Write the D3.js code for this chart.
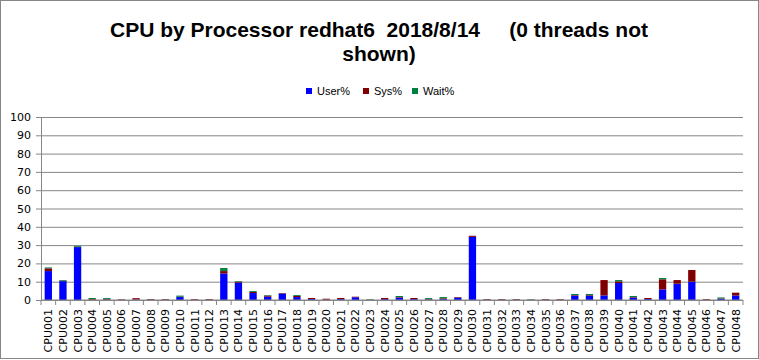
<!DOCTYPE html>
<html lang="en">
<head>
<meta charset="UTF-8">
<title>CPU by Processor</title>
<style>
  body { margin: 0; background: #fff; }
  text { font-family: "DejaVu Sans", Verdana, sans-serif; }
</style>
</head>
<body>
<script src="https://d3js.org/d3.v7.min.js"></script>
<div id="chart"></div>
<script>
// categories
var cpus = d3.range(1, 49).map(function(i) { return "CPU" + String(i).padStart(3, "0"); });

// series values
var userPct = [15.8, 10.3, 28.9, 0.1, 0.2, 0.1, 0.3, 0.1, 0.1, 1.6, 0.1, 0.1,
               14.5, 9.5, 3.8, 1.8, 3.5, 1.6, 0.5, 0.1, 0.5, 1.5, 0.1, 0.5,
               1.3, 0.5, 0.3, 0.5, 1.3, 34.5, 0.1, 0.1, 0.1, 0.1, 0.1, 0.1,
               2.4, 2.4, 2.5, 9.3, 1.3, 0.5, 5.8, 8.9, 10.0, 0.1, 0.7, 2.5];
var sysPct  = [1.5, 0.2, 0.2, 0.4, 0.4, 0.3, 0.7, 0.4, 0.4, 0.2, 0.4, 0.4,
               1.3, 0.5, 0.6, 0.6, 0.3, 0.6, 0.6, 0.6, 0.6, 0.3, 0.1, 0.6,
               0.3, 0.6, 0.3, 0.4, 0.3, 0.6, 0.4, 0.4, 0.4, 0.1, 0.4, 0.4,
               0.3, 0.3, 8.4, 0.9, 0.3, 0.6, 5.5, 2.0, 6.4, 0.4, 0.2, 1.5];
var waitPct = [0.5, 0.4, 0.5, 0.6, 0.5, 0, 0, 0, 0, 0.6, 0, 0,
               1.7, 0.3, 0.5, 0.3, 0, 0.5, 0, 0, 0, 0, 0.3, 0,
               0.6, 0, 0.5, 0.7, 0, 0, 0, 0, 0, 0.3, 0, 0,
               0.6, 0.6, 0, 0.7, 0.6, 0, 0.7, 0, 0, 0, 0.5, 0];

var seriesNames = ["User%", "Sys%", "Wait%"];
var seriesColors = ["#0000ff", "#800000", "#008040"];
var yTicks = d3.range(0, 101, 10);

var W = 759, H = 360;
var margin = { top: 117, right: 16, bottom: 60, left: 41 };
var width = W - margin.left - margin.right,
    height = H - margin.top - margin.bottom;

var svg = d3.select("#chart").append("svg")
    .attr("width", W)
    .attr("height", H);

// outer chart border
svg.append("rect")
    .attr("x", 0.5).attr("y", 0.5)
    .attr("width", W - 1).attr("height", H - 2)
    .attr("fill", "#fff")
    .attr("stroke", "#868686");

// title
var title = svg.append("text")
    .attr("text-anchor", "middle")
    .style("font-family", "'Liberation Sans Narrow', 'Liberation Sans', sans-serif")
    .style("font-weight", "bold")
    .style("font-size", "21px")
    .style("white-space", "pre")
    .attr("fill", "#000");
title.append("tspan").attr("x", 379).attr("y", 37)
    .text("CPU by Processor redhat6  2018/8/14     (0 threads not");
title.append("tspan").attr("x", 379).attr("y", 61).text("shown)");

// legend
var legendX = [306, 363, 412];
var legend = svg.append("g").selectAll("g")
    .data(seriesNames)
    .enter().append("g")
    .attr("transform", function(d, i) { return "translate(" + legendX[i] + ",88)"; });
legend.append("rect")
    .attr("width", 6).attr("height", 6)
    .attr("fill", function(d, i) { return seriesColors[i]; });
legend.append("text")
    .attr("x", 11).attr("y", 7)
    .style("font-family", "'Liberation Sans Narrow', 'Liberation Sans', sans-serif")
    .style("font-size", "11px")
    .text(function(d) { return d; });

var g = svg.append("g")
    .attr("transform", "translate(" + margin.left + "," + margin.top + ")");

var x = d3.scaleBand().domain(cpus).range([0, width]).paddingInner(0.5).paddingOuter(0.25);
var xEdge = d3.scaleBand().domain(cpus).range([0, width]);
var y = d3.scaleLinear().domain([0, 100]).range([height, 0]);

// gridlines
g.append("g")
    .call(d3.axisLeft(y).tickValues(yTicks).tickSize(-width).tickFormat(""))
    .call(function(s) {
        s.select(".domain").remove();
        s.selectAll("line").attr("stroke", "#868686");
    });

// stacked bars
var table = cpus.map(function(c, i) {
    return { cpu: c, "User%": userPct[i], "Sys%": sysPct[i], "Wait%": waitPct[i] };
});
var stacked = d3.stack().keys(seriesNames)(table);

g.append("g").selectAll("g")
    .data(stacked)
    .enter().append("g")
    .attr("fill", function(d, i) { return seriesColors[i]; })
    .selectAll("rect")
    .data(function(d) { return d; })
    .enter().append("rect")
    .attr("x", function(d) { return x(d.data.cpu); })
    .attr("width", x.bandwidth())
    .attr("y", function(d) { return y(d[1]); })
    .attr("height", function(d) { return y(d[0]) - y(d[1]); });

// y axis
g.append("g")
    .call(d3.axisLeft(y).tickValues(yTicks).tickSize(5).tickPadding(5))
    .call(function(s) {
        s.select(".domain").attr("stroke", "#868686");
        s.selectAll("line").attr("stroke", "#868686");
        s.selectAll("text").style("font-size", "11px").attr("fill", "#000");
    });

// x axis: ticks on category boundaries
var xAxis = g.append("g").attr("transform", "translate(0," + height + ")");
xAxis.append("line")
    .attr("x1", 0).attr("x2", width)
    .attr("stroke", "#868686");
xAxis.selectAll("line.tk")
    .data(cpus.concat(["end"]))
    .enter().append("line")
    .attr("class", "tk")
    .attr("x1", function(d, i) { return i < cpus.length ? xEdge(d) : width; })
    .attr("x2", function(d, i) { return i < cpus.length ? xEdge(d) : width; })
    .attr("y1", 0).attr("y2", 5)
    .attr("stroke", "#868686");
xAxis.selectAll("text")
    .data(cpus)
    .enter().append("text")
    .attr("transform", function(d) {
        return "translate(" + (xEdge(d) + xEdge.bandwidth() / 2 + 4) + ",9) rotate(-90)";
    })
    .attr("text-anchor", "end")
    .style("font-size", "11px")
    .attr("fill", "#000")
    .text(function(d) { return d; });
</script>
</body>
</html>
